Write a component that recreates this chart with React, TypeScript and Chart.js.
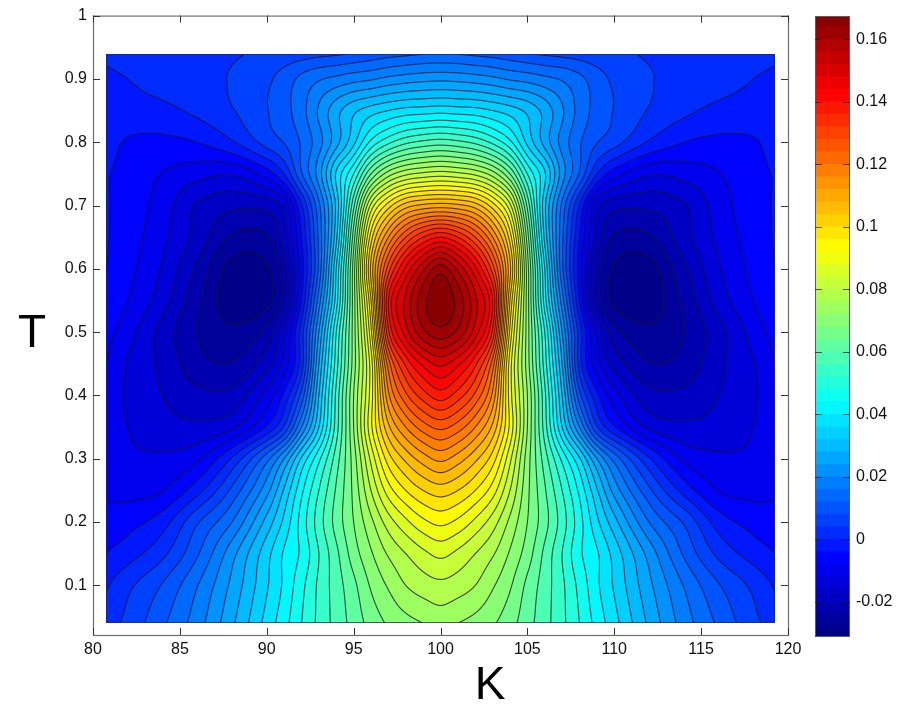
import React, { useEffect, useRef } from "react";
import { Chart, registerables } from "chart.js";

Chart.register(...registerables);

// Grid nodes (left half; the surface is mirror-symmetric about K = 100)
const kLeft = [80.75, 82, 84, 86, 88, 90, 91, 92, 93, 94, 95, 96, 97, 98, 99, 100];
const tRows = [0.04, 0.1, 0.15, 0.2, 0.25, 0.3, 0.35, 0.4, 0.45, 0.5, 0.55, 0.6, 0.65, 0.7, 0.75, 0.8, 0.85, 0.9, 0.94];
const r004 = [0.002, 0.0052, 0.0113, 0.0182, 0.0272, 0.0375, 0.0425, 0.048, 0.053, 0.0575, 0.0615, 0.0655, 0.0685, 0.0705, 0.072, 0.0735];
const r010 = [-0.0005, 0.003, 0.0083, 0.0158, 0.025, 0.0355, 0.0408, 0.0468, 0.0528, 0.058, 0.063, 0.0685, 0.0725, 0.076, 0.078, 0.079];
const r015 = [-0.004, -0.0018, 0.003, 0.0115, 0.0225, 0.0345, 0.0405, 0.0448, 0.052, 0.059, 0.066, 0.0715, 0.0765, 0.08, 0.083, 0.085];
const r020 = [-0.0065, -0.0055, -0.0018, 0.0075, 0.016, 0.0295, 0.037, 0.0456, 0.054, 0.0615, 0.068, 0.075, 0.082, 0.087, 0.091, 0.093];
const r025 = [-0.0085, -0.0092, -0.0082, -0.0015, 0.009, 0.0225, 0.0325, 0.043, 0.052, 0.0605, 0.069, 0.08, 0.09, 0.096, 0.1, 0.102];
const r030 = [-0.0095, -0.0112, -0.0112, -0.0088, 0.0005, 0.0145, 0.024, 0.0365, 0.047, 0.058, 0.07, 0.085, 0.098, 0.105, 0.11, 0.113];
const r035 = [-0.0102, -0.012, -0.0145, -0.015, -0.0128, -0.0035, 0.0045, 0.02, 0.036, 0.054, 0.072, 0.091, 0.107, 0.116, 0.122, 0.125];
const r040 = [-0.0095, -0.0125, -0.016, -0.0188, -0.0185, -0.0105, -0.003, 0.0095, 0.032, 0.053, 0.072, 0.09, 0.115, 0.127, 0.134, 0.138];
const r045 = [-0.008, -0.0123, -0.017, -0.0225, -0.0237, -0.0175, -0.0105, 0.002, 0.028, 0.05, 0.07, 0.09, 0.122, 0.137, 0.145, 0.149];
const r050 = [-0.0065, -0.0103, -0.0175, -0.024, -0.027, -0.0225, -0.013, 0.002, 0.024, 0.048, 0.07, 0.095, 0.135, 0.15, 0.159, 0.1625];
const r055 = [-0.0048, -0.008, -0.0143, -0.023, -0.0305, -0.0292, -0.0215, -0.004, 0.018, 0.042, 0.07, 0.1, 0.14, 0.153, 0.1625, 0.1675];
const r060 = [-0.004, -0.0068, -0.0125, -0.0208, -0.0295, -0.0285, -0.0215, -0.006, 0.013, 0.04, 0.07, 0.105, 0.13, 0.145, 0.155, 0.162];
const r065 = [-0.0037, -0.006, -0.011, -0.0175, -0.0245, -0.0245, -0.0175, -0.004, 0.013, 0.035, 0.066, 0.098, 0.116, 0.128, 0.136, 0.14];
const r070 = [-0.0037, -0.0055, -0.01, -0.0165, -0.019, -0.0185, -0.0145, -0.0005, 0.015, 0.033, 0.059, 0.085, 0.098, 0.106, 0.109, 0.11];
const r075 = [-0.0037, -0.0052, -0.0082, -0.0105, -0.0115, -0.0062, 0, 0.0115, 0.022, 0.0365, 0.048, 0.064, 0.074, 0.079, 0.081, 0.082];
const r080 = [-0.0025, -0.0044, -0.005, -0.004, -0.0005, 0.0055, 0.0082, 0.0125, 0.0185, 0.0265, 0.035, 0.045, 0.051, 0.055, 0.057, 0.058];
const r085 = [-0.0015, -0.0015, -0.001, 0.0009, 0.0037, 0.0078, 0.0105, 0.0145, 0.0205, 0.0265, 0.031, 0.034, 0.036, 0.0375, 0.038, 0.0385];
const r090 = [-0.0004, 0, 0.0015, 0.0028, 0.0043, 0.0072, 0.0098, 0.013, 0.0155, 0.017, 0.0185, 0.0195, 0.021, 0.022, 0.0227, 0.023];
const r094 = [0.0003, 0.0008, 0.0018, 0.0028, 0.0036, 0.0047, 0.0053, 0.006, 0.0067, 0.0073, 0.0082, 0.0093, 0.0103, 0.011, 0.0117, 0.012];
const rowsLeft = [r004, r010, r015, r020, r025, r030, r035, r040, r045, r050, r055, r060, r065, r070, r075, r080, r085, r090, r094];

const kTickValues = [80, 85, 90, 95, 100, 105, 110, 115, 120];
const tTickValues = [0.1, 0.2, 0.3, 0.4, 0.5, 0.6, 0.7, 0.8, 0.9, 1];
const barTickValues = [-0.02, 0, 0.02, 0.04, 0.06, 0.08, 0.1, 0.12, 0.14, 0.16];
const barTickLabels = ["-0.02", "0", "0.02", "0.04", "0.06", "0.08", "0.1", "0.12", "0.14", "0.16"];
const contourLevels = [
  -0.028, -0.024, -0.02, -0.016, -0.012, -0.008, -0.004, 0, 0.004, 0.008, 0.012, 0.016, 0.02, 0.024, 0.028, 0.032,
  0.036, 0.04, 0.044, 0.048, 0.052, 0.056, 0.06, 0.064, 0.068, 0.072, 0.076, 0.08, 0.084, 0.088, 0.092, 0.096, 0.1,
  0.104, 0.108, 0.112, 0.116, 0.12, 0.124, 0.128, 0.132, 0.136, 0.14, 0.144, 0.148, 0.152, 0.156, 0.16, 0.164,
];
const valueMin = -0.0313;
const valueMax = 0.1675;

const kAll = [...kLeft, ...kLeft.slice(0, -1).reverse().map((k) => 200 - k)];
const rowsAll = rowsLeft.map((row) => [...row, ...row.slice(0, -1).reverse()]);
const gridPoints = tRows.flatMap((t, j) => kAll.map((k, i) => ({ x: k, y: t, v: rowsAll[j][i] })));

const FONT = "'Liberation Sans', Arial, sans-serif";
const AXIS = "#6e6e6e";

function jet(v: number): [number, number, number] {
  const f = Math.min(1, Math.max(0, (v - valueMin) / (valueMax - valueMin)));
  const ch = (c: number) => Math.round(255 * Math.min(1, Math.max(0, 1.5 - Math.abs(4 * f - c))));
  return [ch(3), ch(2), ch(1)];
}

function bandMid(v: number): number {
  let lo = valueMin;
  let hi = valueMax;
  for (const l of contourLevels) {
    if (l <= v) lo = l;
    else {
      hi = l;
      break;
    }
  }
  return (lo + hi) / 2;
}

function tangents(xs: number[], ys: ArrayLike<number>): number[] {
  const n = xs.length;
  const m: number[] = new Array(n);
  for (let i = 0; i < n; i++) {
    const a = Math.max(0, i - 1);
    const b = Math.min(n - 1, i + 1);
    m[i] = (ys[b] - ys[a]) / (xs[b] - xs[a]);
  }
  return m;
}

function hermite(xs: number[], ys: ArrayLike<number>, ms: number[], x: number): number {
  let i = 0;
  while (i < xs.length - 2 && x > xs[i + 1]) i++;
  const h = xs[i + 1] - xs[i];
  const s = (x - xs[i]) / h;
  const s2 = s * s;
  const s3 = s2 * s;
  return (
    (2 * s3 - 3 * s2 + 1) * ys[i] + (s3 - 2 * s2 + s) * h * ms[i] + (-2 * s3 + 3 * s2) * ys[i + 1] + (s3 - s2) * h * ms[i + 1]
  );
}

const contourPlugin = {
  id: "contourField",
  beforeDatasetsDraw(chart: any) {
    const { ctx, scales } = chart;
    const x = scales.x;
    const y = scales.y;
    const left = Math.round(x.getPixelForValue(kAll[0]));
    const right = Math.round(x.getPixelForValue(kAll[kAll.length - 1]));
    const top = Math.round(y.getPixelForValue(tRows[tRows.length - 1]));
    const bottom = Math.round(y.getPixelForValue(tRows[0]));
    const w = right - left;
    const h = bottom - top;
    const field = new Float32Array(w * h);
    const rowTangents = rowsAll.map((r) => tangents(kAll, r));
    for (let px = 0; px < w; px++) {
      const k = x.getValueForPixel(left + px + 0.5);
      const col = rowsAll.map((r, j) => hermite(kAll, r, rowTangents[j], k));
      const colT = tangents(tRows, col);
      for (let py = 0; py < h; py++) {
        const t = y.getValueForPixel(top + py + 0.5);
        field[py * w + px] = hermite(tRows, col, colT, t);
      }
    }
    const img = ctx.createImageData(w, h);
    for (let py = 0; py < h; py++) {
      for (let px = 0; px < w; px++) {
        const i = py * w + px;
        const v = field[i];
        const gx = (field[py * w + Math.min(w - 1, px + 1)] - field[py * w + Math.max(0, px - 1)]) / 2;
        const gy = (field[Math.min(h - 1, py + 1) * w + px] - field[Math.max(0, py - 1) * w + px]) / 2;
        const g = Math.max(1e-6, Math.hypot(gx, gy));
        const near = Math.round(v / 0.004) * 0.004;
        const d = Math.abs(v - near) / g;
        const a = Math.min(1, Math.max(0, 1.05 - d)) * 0.78;
        const [r, gg, b] = jet(bandMid(v));
        const o = i * 4;
        img.data[o] = r * (1 - a) + 20 * a;
        img.data[o + 1] = gg * (1 - a) + 20 * a;
        img.data[o + 2] = b * (1 - a) + 40 * a;
        img.data[o + 3] = 255;
      }
    }
    ctx.putImageData(img, left, top);
    ctx.save();
    ctx.strokeStyle = "rgba(40,40,90,0.75)";
    ctx.lineWidth = 1;
    ctx.strokeRect(left + 0.5, top + 0.5, w - 1, h - 1);
    ctx.restore();
  },
  afterDraw(chart: any) {
    const { ctx, chartArea: a, scales } = chart;
    ctx.save();
    ctx.strokeStyle = AXIS;
    ctx.lineWidth = 1.2;
    ctx.strokeRect(a.left + 0.5, a.top + 0.5, a.right - a.left, a.bottom - a.top);
    ctx.strokeStyle = "#333";
    ctx.lineWidth = 1;
    ctx.beginPath();
    for (const v of kTickValues) {
      const p = Math.round(scales.x.getPixelForValue(v)) + 0.5;
      ctx.moveTo(p, a.top);
      ctx.lineTo(p, a.top + 7);
      ctx.moveTo(p, a.bottom);
      ctx.lineTo(p, a.bottom - 7);
    }
    for (const v of tTickValues) {
      const p = Math.round(scales.y.getPixelForValue(v)) + 0.5;
      ctx.moveTo(a.left, p);
      ctx.lineTo(a.left + 7, p);
      ctx.moveTo(a.right, p);
      ctx.lineTo(a.right - 7, p);
    }
    ctx.stroke();
    ctx.fillStyle = "#000";
    ctx.font = `46px ${FONT}`;
    ctx.textAlign = "center";
    ctx.textBaseline = "middle";
    ctx.fillText("T", 32, 334);
    ctx.fillText("K", 490, 686);
    ctx.restore();
  },
};

const barFramePlugin = {
  id: "barFrame",
  afterDraw(chart: any) {
    const { ctx, chartArea: a, scales } = chart;
    ctx.save();
    ctx.strokeStyle = "#5a5a6a";
    ctx.lineWidth = 1;
    ctx.strokeRect(a.left + 0.5, a.top + 0.5, a.right - a.left - 1, a.bottom - a.top - 1);
    ctx.strokeStyle = "rgba(30,30,30,0.75)";
    ctx.beginPath();
    for (const v of barTickValues) {
      const p = Math.round(scales.y.getPixelForValue(v)) + 0.5;
      ctx.moveTo(a.left, p);
      ctx.lineTo(a.left + 7, p);
      ctx.moveTo(a.right, p);
      ctx.lineTo(a.right - 7, p);
    }
    ctx.stroke();
    ctx.restore();
  },
};

export default function App() {
  const mainRef = useRef<HTMLCanvasElement | null>(null);
  const barRef = useRef<HTMLCanvasElement | null>(null);

  useEffect(() => {
    const main = new Chart(mainRef.current as any, {
      type: "scatter",
      data: { datasets: [{ label: "surface", data: gridPoints as any, pointRadius: 0, showLine: false }] },
      plugins: [contourPlugin as any],
      options: {
        animation: false,
        responsive: false,
        devicePixelRatio: 1,
        layout: { padding: { top: 15, right: 124, left: 0, bottom: 0 } },
        plugins: { legend: { display: false }, tooltip: { enabled: false } },
        scales: {
          x: {
            type: "linear",
            min: 80,
            max: 120,
            afterFit: (s: any) => {
              s.height = 70;
            },
            afterBuildTicks: (s: any) => {
              s.ticks = kTickValues.map((value) => ({ value }));
            },
            grid: { display: false, drawTicks: false },
            border: { display: false },
            ticks: { color: "#111", font: { family: FONT, size: 16 }, padding: 5, maxRotation: 0, autoSkip: false, callback: (v: any) => String(v) },
          },
          y: {
            type: "linear",
            min: 0.0216,
            max: 1,
            afterFit: (s: any) => {
              s.width = 93;
            },
            afterBuildTicks: (s: any) => {
              s.ticks = tTickValues.map((value) => ({ value }));
            },
            grid: { display: false, drawTicks: false },
            border: { display: false },
            ticks: { color: "#111", font: { family: FONT, size: 16 }, padding: 6, autoSkip: false, callback: (v: any) => String(v) },
          },
        },
      },
    });

    const edges = [valueMin, ...contourLevels, valueMax];
    const bar = new Chart(barRef.current as any, {
      type: "bar",
      data: {
        labels: ["scale"],
        datasets: edges.slice(0, -1).map((lo, i) => {
          const [r, g, b] = jet((lo + edges[i + 1]) / 2);
          return {
            label: String(lo),
            data: [[lo, edges[i + 1]]] as any,
            backgroundColor: `rgb(${r},${g},${b})`,
            borderWidth: 0,
            barPercentage: 1,
            categoryPercentage: 1,
            grouped: false,
          };
        }),
      },
      plugins: [barFramePlugin as any],
      options: {
        animation: false,
        responsive: false,
        devicePixelRatio: 1,
        layout: { padding: { top: 16, right: 0, left: 15, bottom: 68 } },
        plugins: { legend: { display: false }, tooltip: { enabled: false } },
        scales: {
          x: { display: false },
          y: {
            position: "right",
            min: valueMin,
            max: valueMax,
            afterFit: (s: any) => {
              s.width = 62;
            },
            afterBuildTicks: (s: any) => {
              s.ticks = barTickValues.map((value) => ({ value }));
            },
            grid: { display: false, drawTicks: false },
            border: { display: false },
            ticks: {
              color: "#111",
              font: { family: FONT, size: 16 },
              padding: 6,
              autoSkip: false,
              callback: (v: any) => barTickLabels[barTickValues.findIndex((b) => Math.abs(b - v) < 1e-6)] ?? "",
            },
          },
        },
      },
    });

    return () => {
      main.destroy();
      bar.destroy();
    };
  }, []);

  return (
    <div style={{ position: "absolute", left: 0, top: 0, width: 912, height: 705, background: "#fff", overflow: "hidden" }}>
      <canvas ref={mainRef} width={912} height={705} style={{ position: "absolute", left: 0, top: 0, display: "block" }} />
      <canvas ref={barRef} width={112} height={705} style={{ position: "absolute", left: 800, top: 0, display: "block" }} />
    </div>
  );
}
